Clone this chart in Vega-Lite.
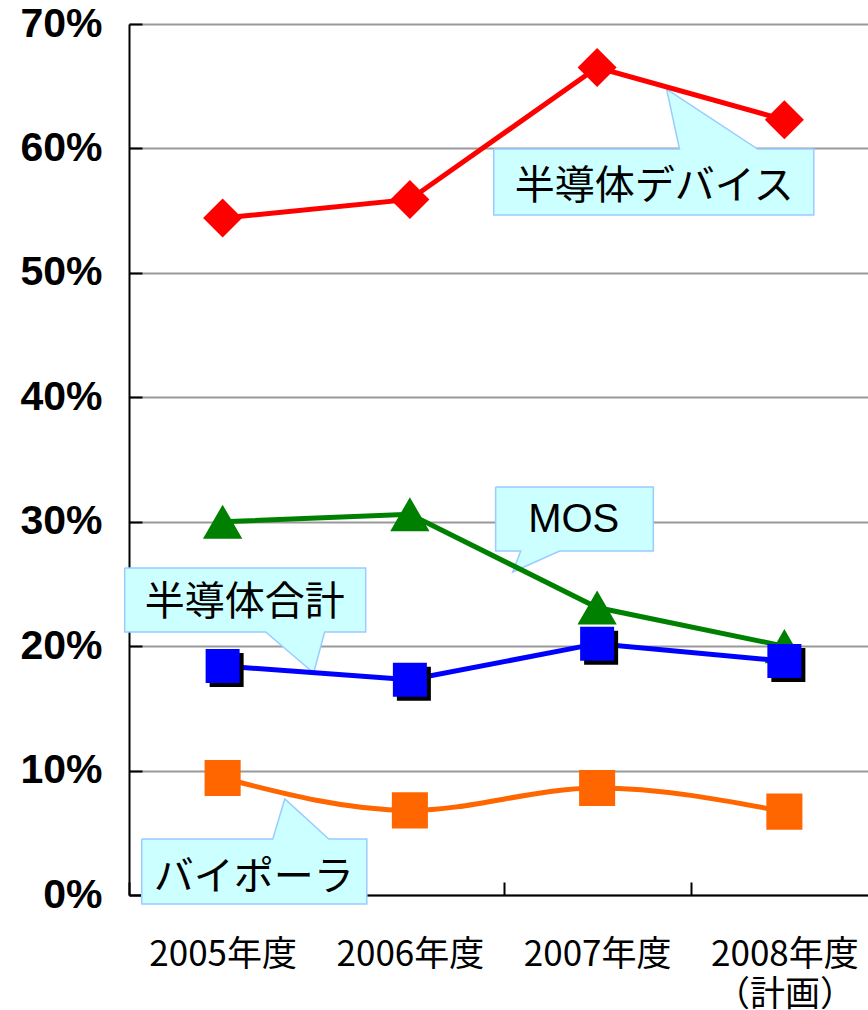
{
  "$schema": "https://vega.github.io/schema/vega-lite/v6.json",
  "width": 749,
  "height": 871,
  "padding": {"left": 19, "top": 3, "right": 5, "bottom": 5},
  "background": "white",
  "config": {"view": {"stroke": null}},
  "datasets": {
    "series": [
      {"series": "半導体デバイス", "year": "2005年度", "value": 54.4},
      {"series": "半導体デバイス", "year": "2006年度", "value": 55.9},
      {"series": "半導体デバイス", "year": "2007年度", "value": 66.5},
      {"series": "半導体デバイス", "year": "2008年度\n（計画）", "value": 62.3},
      {"series": "MOS", "year": "2005年度", "value": 30.0},
      {"series": "MOS", "year": "2006年度", "value": 30.6},
      {"series": "MOS", "year": "2007年度", "value": 23.1},
      {"series": "MOS", "year": "2008年度\n（計画）", "value": 20.0},
      {"series": "半導体合計", "year": "2005年度", "value": 18.4},
      {"series": "半導体合計", "year": "2006年度", "value": 17.3},
      {"series": "半導体合計", "year": "2007年度", "value": 20.2},
      {"series": "半導体合計", "year": "2008年度\n（計画）", "value": 18.8},
      {"series": "バイポーラ", "year": "2005年度", "value": 9.4},
      {"series": "バイポーラ", "year": "2006年度", "value": 6.8},
      {"series": "バイポーラ", "year": "2007年度", "value": 8.6},
      {"series": "バイポーラ", "year": "2008年度\n（計画）", "value": 6.7}
    ],
    "callouts": [
      {"id": "A", "i": 0, "cx": 1.948, "cy": 59.95},
      {"id": "A", "i": 1, "cx": 2.94, "cy": 59.95},
      {"id": "A", "i": 2, "cx": 2.871, "cy": 64.77},
      {"id": "A", "i": 3, "cx": 3.357, "cy": 59.95},
      {"id": "A", "i": 4, "cx": 3.657, "cy": 59.95},
      {"id": "A", "i": 5, "cx": 3.657, "cy": 54.65},
      {"id": "A", "i": 6, "cx": 1.948, "cy": 54.65},
      {"id": "A", "i": 7, "cx": 1.948, "cy": 59.95},
      {"id": "B", "i": 0, "cx": 1.958, "cy": 32.79},
      {"id": "B", "i": 1, "cx": 2.8, "cy": 32.79},
      {"id": "B", "i": 2, "cx": 2.8, "cy": 27.65},
      {"id": "B", "i": 3, "cx": 2.3, "cy": 27.65},
      {"id": "B", "i": 4, "cx": 2.049, "cy": 25.96},
      {"id": "B", "i": 5, "cx": 2.092, "cy": 27.65},
      {"id": "B", "i": 6, "cx": 1.958, "cy": 27.65},
      {"id": "B", "i": 7, "cx": 1.958, "cy": 32.79},
      {"id": "C", "i": 0, "cx": -0.023, "cy": 26.28},
      {"id": "C", "i": 1, "cx": 1.264, "cy": 26.28},
      {"id": "C", "i": 2, "cx": 1.264, "cy": 21.14},
      {"id": "C", "i": 3, "cx": 1.045, "cy": 21.14},
      {"id": "C", "i": 4, "cx": 0.986, "cy": 17.84},
      {"id": "C", "i": 5, "cx": 0.73, "cy": 21.14},
      {"id": "C", "i": 6, "cx": -0.023, "cy": 21.14},
      {"id": "C", "i": 7, "cx": -0.023, "cy": 26.28},
      {"id": "D", "i": 0, "cx": 0.068, "cy": 4.5},
      {"id": "D", "i": 1, "cx": 0.768, "cy": 4.5},
      {"id": "D", "i": 2, "cx": 0.832, "cy": 7.72},
      {"id": "D", "i": 3, "cx": 1.067, "cy": 4.5},
      {"id": "D", "i": 4, "cx": 1.27, "cy": 4.5},
      {"id": "D", "i": 5, "cx": 1.27, "cy": -0.72},
      {"id": "D", "i": 6, "cx": 0.068, "cy": -0.72},
      {"id": "D", "i": 7, "cx": 0.068, "cy": 4.5}
    ],
    "notes": [
      {"label": "半導体デバイス", "tx": 2.805, "ty": 56.9},
      {"label": "MOS", "tx": 2.375, "ty": 30.1},
      {"label": "半導体合計", "tx": 0.618, "ty": 23.5},
      {"label": "バイポーラ", "tx": 0.666, "ty": 1.4}
    ]
  },
  "layer": [
    {
      "data": {"name": "callouts"},
      "mark": {"type": "line", "fill": "#CCFFFF", "stroke": "#99CCFF", "strokeWidth": 1.5, "strokeJoin": "miter"},
      "encoding": {
        "x": {"field": "cx", "type": "quantitative", "scale": {"domain": [0, 4], "nice": false, "zero": false}, "axis": null},
        "y": {"field": "cy", "type": "quantitative", "scale": {"domain": [0, 70], "nice": false},
          "axis": {"values": [0, 10, 20, 30, 40, 50, 60, 70], "labelExpr": "datum.value + '%'", "title": null,
            "labelFont": "Liberation Sans", "labelFontWeight": "bold", "labelFontSize": 41, "labelColor": "#000000",
            "labelPadding": 40, "tickSize": -13, "tickColor": "#000000", "tickWidth": 2,
            "domainColor": "#000000", "domainWidth": 2, "grid": true, "gridColor": "#999999", "gridWidth": 2}},
        "detail": {"field": "id"},
        "order": {"field": "i", "type": "quantitative"}
      }
    },
    {
      "data": {"name": "notes"},
      "mark": {"type": "text", "font": "Liberation Sans, Noto Sans CJK JP", "fontSize": 40, "color": "#000000", "align": "center", "baseline": "middle"},
      "encoding": {
        "x": {"field": "tx", "type": "quantitative", "scale": {"domain": [0, 4], "nice": false, "zero": false}, "axis": null},
        "y": {"field": "ty", "type": "quantitative"},
        "text": {"field": "label"}
      }
    },
    {
      "data": {"name": "series"},
      "transform": [{"filter": "datum.series === '半導体デバイス' || datum.series === 'MOS' || datum.series === '半導体合計' || datum.series === 'バイポーラ'"}],
      "encoding": {
        "x": {"field": "year", "type": "nominal", "sort": null,
          "scale": {"type": "band", "paddingInner": 0, "paddingOuter": 0},
          "axis": {"title": null, "labelAngle": 0, "labelFont": "Noto Sans CJK JP", "labelFontSize": 35, "labelColor": "#000000",
            "labelPadding": 55, "labelBaseline": "top", "labelLineHeight": 40, "labelExpr": "split(datum.label, '\\n')",
            "tickSize": -13, "tickBand": "extent", "tickColor": "#000000", "tickWidth": 2,
            "domainColor": "#000000", "domainWidth": 2, "grid": false}},
        "y": {"field": "value", "type": "quantitative"}
      },
      "layer": [
        {"transform": [{"filter": "datum.series === 'バイポーラ'"}],
         "mark": {"type": "line", "color": "#FF6600", "strokeWidth": 5, "interpolate": "monotone"}},
        {"transform": [{"filter": "datum.series === 'バイポーラ'"}],
         "mark": {"type": "point", "shape": "square", "filled": true, "color": "#FF6600", "size": 1300, "opacity": 1}},
        {"transform": [{"filter": "datum.series === '半導体デバイス'"}],
         "mark": {"type": "line", "color": "#FF0000", "strokeWidth": 5}},
        {"transform": [{"filter": "datum.series === '半導体デバイス'"}],
         "mark": {"type": "point", "shape": "diamond", "filled": true, "color": "#FF0000", "size": 1521, "opacity": 1}},
        {"transform": [{"filter": "datum.series === 'MOS'"}],
         "mark": {"type": "line", "color": "#008000", "strokeWidth": 5}},
        {"transform": [{"filter": "datum.series === 'MOS'"}],
         "mark": {"type": "point", "shape": "triangle-up", "filled": true, "color": "#008000", "size": 1550, "opacity": 1}},
        {"transform": [{"filter": "datum.series === '半導体合計'"}],
         "mark": {"type": "line", "color": "#0000FF", "strokeWidth": 5}},
        {"transform": [{"filter": "datum.series === '半導体合計'"}],
         "mark": {"type": "point", "shape": "square", "filled": true, "color": "#000000", "size": 1156, "opacity": 1, "xOffset": 4, "yOffset": 4}},
        {"transform": [{"filter": "datum.series === '半導体合計'"}],
         "mark": {"type": "point", "shape": "square", "filled": true, "color": "#0000FF", "size": 1156, "opacity": 1}}
      ]
    }
  ],
  "resolve": {"scale": {"x": "independent"}}
}
